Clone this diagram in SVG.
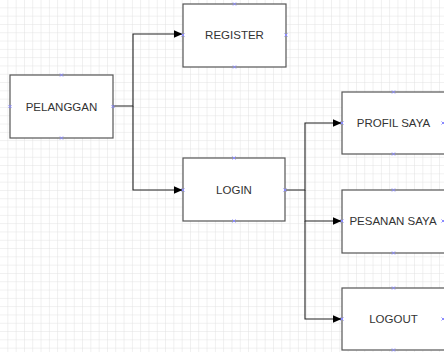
<svg xmlns="http://www.w3.org/2000/svg" width="444" height="352" viewBox="0 0 444 352">
<style>
.box{fill:#fff;stroke:#555;stroke-width:1.2}
.lbl{font-family:"Liberation Sans",Arial,sans-serif;font-size:11.5px;fill:#333;text-anchor:middle;dominant-baseline:central}
.con{fill:none;stroke:#222;stroke-width:1.1}
.port{stroke:#8a8aff;stroke-width:1}
</style>
<defs>
<pattern id="g" width="8.3" height="8.3" patternUnits="userSpaceOnUse">
<path d="M8.3 0V8.3H0" fill="none" stroke="#e2e2e2" stroke-width="1"/>
</pattern>
<marker id="ah" markerWidth="9" markerHeight="8" refX="8.5" refY="4" orient="auto" markerUnits="userSpaceOnUse">
<path d="M0 0L9 4L0 8z" fill="#000"/>
</marker>
<g id="px"><path class="port" d="M-1.5-1.5L1.5 1.5M-1.5 1.5L1.5-1.5"/></g>
</defs>
<rect width="444" height="352" fill="#fff"/>
<rect width="444" height="352" fill="url(#g)"/>
<g id="connectors">
<path class="con" d="M113 106H133V34H182" marker-end="url(#ah)"/>
<path class="con" d="M133 106V190H182" marker-end="url(#ah)"/>
<path class="con" d="M285 190H305V123H341" marker-end="url(#ah)"/>
<path class="con" d="M305 190V221H341" marker-end="url(#ah)"/>
<path class="con" d="M305 221V319H341" marker-end="url(#ah)"/>
</g>
<g id="pelanggan">
<rect class="box" x="10" y="75" width="103" height="63"/>
<text class="lbl" x="61.5" y="106.5">PELANGGAN</text>
<use href="#px" x="61.5" y="75"/><use href="#px" x="61.5" y="138"/><use href="#px" x="10" y="106.5"/><use href="#px" x="113" y="106.5"/>
</g>
<g id="register">
<rect class="box" x="183" y="4" width="103" height="63"/>
<text class="lbl" x="234.5" y="35">REGISTER</text>
<use href="#px" x="234.5" y="4"/><use href="#px" x="234.5" y="67"/><use href="#px" x="183" y="35"/><use href="#px" x="286" y="35"/>
</g>
<g id="login">
<rect class="box" x="183" y="158" width="102" height="63"/>
<text class="lbl" x="234" y="189.5">LOGIN</text>
<use href="#px" x="234" y="158"/><use href="#px" x="234" y="221"/><use href="#px" x="183" y="190"/><use href="#px" x="285" y="190"/>
</g>
<g id="profil">
<rect class="box" x="342" y="92" width="103" height="62"/>
<text class="lbl" x="393.5" y="123">PROFIL SAYA</text>
<use href="#px" x="393.5" y="92"/><use href="#px" x="393.5" y="154"/><use href="#px" x="342" y="123"/><use href="#px" x="443" y="123"/>
</g>
<g id="pesanan">
<rect class="box" x="342" y="190" width="103" height="63"/>
<text class="lbl" x="393" y="221">PESANAN SAYA</text>
<use href="#px" x="393.5" y="190"/><use href="#px" x="393.5" y="253"/><use href="#px" x="342" y="221"/><use href="#px" x="443" y="221"/>
</g>
<g id="logout">
<rect class="box" x="342" y="288" width="103" height="62"/>
<text class="lbl" x="393.5" y="319">LOGOUT</text>
<use href="#px" x="393.5" y="288"/><use href="#px" x="393.5" y="350"/><use href="#px" x="342" y="319"/><use href="#px" x="443" y="319"/>
</g>
</svg>
